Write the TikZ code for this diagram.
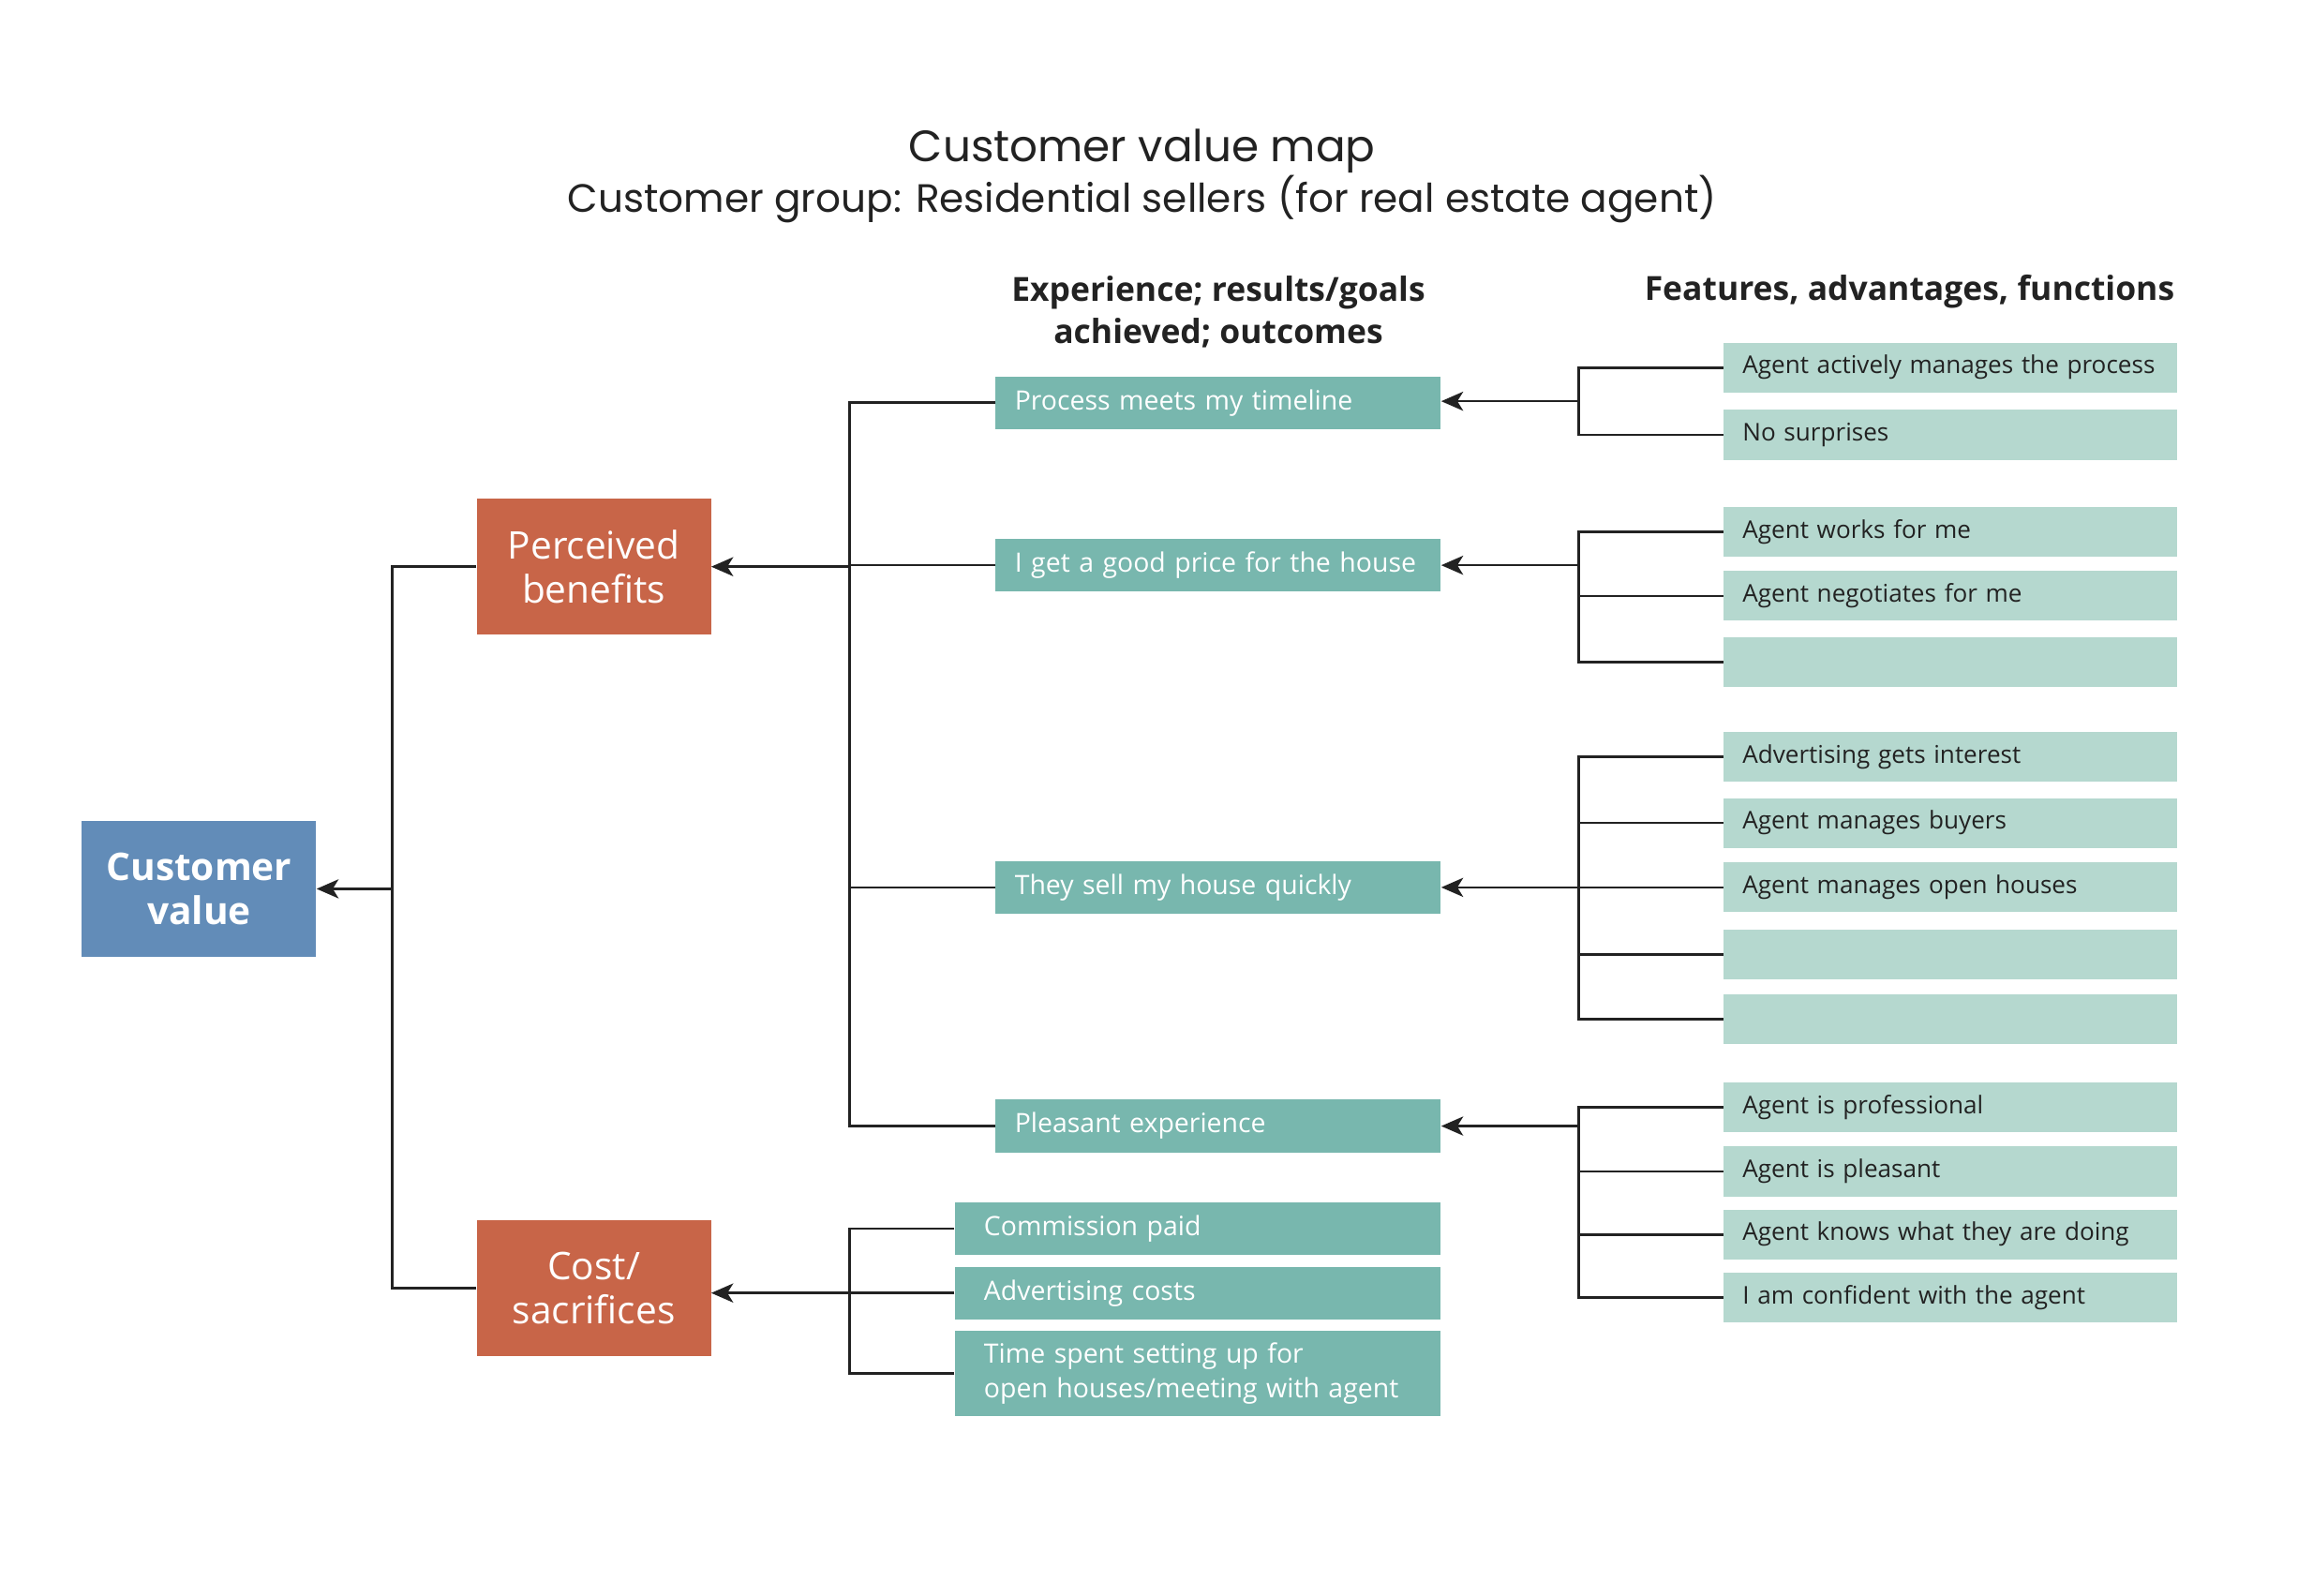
\documentclass[tikz,border=0pt]{standalone}
\usepackage{fontspec}
\setmainfont{Open Sans}
\newfontfamily\titlefont{Poppins}
\usetikzlibrary{arrows.meta}

\definecolor{cvblue}{HTML}{628CB8}
\definecolor{cvorange}{HTML}{C86548}
\definecolor{cvteal}{HTML}{78B7AE}
\definecolor{cvlight}{HTML}{B5D8CF}
\definecolor{linegray}{HTML}{222222}

\tikzset{
  link/.style={draw=linegray, line width=1.7pt},
  tip/.style={link, -{Stealth[length=15pt,width=13pt,inset=4pt]}},
  valuebox/.style={fill=cvblue, text=white, minimum width=160pt, minimum height=93pt, align=center, font=\fontsize{26}{30}\selectfont\bfseries},
  sidebox/.style={fill=cvorange, text=white, minimum width=160pt, minimum height=93pt, align=center, font=\fontsize{26}{30}\selectfont},
  outbox/.style={fill=cvteal, text=white, minimum height=36pt, inner xsep=13pt, text width=278pt, align=left, font=\fontsize{18.2}{24}\selectfont},
  costbox/.style={outbox, inner xsep=20pt, text width=292pt},
  featbox/.style={fill=cvlight, text=linegray, minimum height=34pt, inner xsep=13pt, text width=284pt, align=left, font=\fontsize{16.7}{21}\selectfont},
  heading/.style={text=linegray, align=center, font=\fontsize{22.7}{29}\selectfont\bfseries},
}

\begin{document}
\begin{tikzpicture}[x=1pt, y=-1pt]
  \useasboundingbox (0,0) rectangle (1569.3,1089.3);

  % titles
  \node[text=linegray, font=\titlefont\fontsize{30}{34}\selectfont] (title) at (780,103) {Customer value map};
  \node[text=linegray, font=\titlefont\fontsize{27}{30}\selectfont] (subtitle) at (780,136) {Customer group: Residential sellers (for real estate agent)};
  \node[heading] (headout) at (832,213) {Experience; results/goals\\achieved; outcomes};
  \node[heading] (headfeat) at (1304,199) {Features, advantages, functions};

  % main boxes
  \node[valuebox] (value) at (136,607) {Customer\\value};
  \node[sidebox] (benefits) at (405.5,387) {Perceived\\benefits};
  \node[sidebox] (cost) at (405.5,879.5) {Cost/\\sacrifices};

  % outcomes
  \node[outbox] (timeline) at (832,275) {Process meets my timeline};
  \node[outbox] (price) at (832,386) {I get a good price for the house};
  \node[outbox] (quick) at (832,606) {They sell my house quickly};
  \node[outbox] (pleasant) at (832,769) {Pleasant experience};
  \node[costbox] (commission) at (818,839) {Commission paid};
  \node[costbox] (adcost) at (818,883) {Advertising costs};
  \node[costbox, minimum height=58pt] (timecost) at (818,938) {Time spent setting up for\\open houses/meeting with agent};

  % features
  \node[featbox] (a1) at (1332,251) {Agent actively manages the process};
  \node[featbox] (a2) at (1332,297) {No surprises};
  \node[featbox] (b1) at (1332,363) {Agent works for me};
  \node[featbox] (b2) at (1332,407) {Agent negotiates for me};
  \node[featbox] (b3) at (1332,452) {};
  \node[featbox] (c1) at (1332,517) {Advertising gets interest};
  \node[featbox] (c2) at (1332,562) {Agent manages buyers};
  \node[featbox] (c3) at (1332,606) {Agent manages open houses};
  \node[featbox] (c4) at (1332,652) {};
  \node[featbox] (c5) at (1332,696) {};
  \node[featbox] (d1) at (1332,756) {Agent is professional};
  \node[featbox] (d2) at (1332,800) {Agent is pleasant};
  \node[featbox] (d3) at (1332,843) {Agent knows what they are doing};
  \node[featbox] (d4) at (1332,886) {I am confident with the agent};

  % junctions
  \coordinate (jvalue) at (268,607);
  \coordinate (jben) at (580,387);
  \coordinate (jcost) at (580,883);
  \coordinate (ja) at (1078,274);
  \coordinate (jb) at (1078,386);
  \coordinate (jc) at (1078,606);
  \coordinate (jd) at (1078,769);

  % connectors
  \draw[link] (benefits.west) -| (jvalue);
  \draw[link] (cost.west) -| (jvalue);
  \draw[tip] (jvalue) -- (value.east);

  \draw[link] (timeline.west) -| (jben);
  \draw[link] (price.west) -| (jben);
  \draw[link] (quick.west) -| (jben);
  \draw[link] (pleasant.west) -| (jben);
  \draw[tip] (jben) -- (benefits.east);

  \draw[link] (commission.west) -| (jcost);
  \draw[link] (adcost.west) -| (jcost);
  \draw[link] (timecost.west) -| (jcost);
  \draw[tip] (jcost) -- (jcost -| cost.east);

  \draw[link] (a1.west) -| (ja);
  \draw[link] (a2.west) -| (ja);
  \draw[tip] (ja) -- (ja -| timeline.east);

  \draw[link] (b1.west) -| (jb);
  \draw[link] (b2.west) -| (jb);
  \draw[link] (b3.west) -| (jb);
  \draw[tip] (jb) -- (price.east);

  \draw[link] (c1.west) -| (jc);
  \draw[link] (c2.west) -| (jc);
  \draw[link] (c3.west) -| (jc);
  \draw[link] (c4.west) -| (jc);
  \draw[link] (c5.west) -| (jc);
  \draw[tip] (jc) -- (quick.east);

  \draw[link] (d1.west) -| (jd);
  \draw[link] (d2.west) -| (jd);
  \draw[link] (d3.west) -| (jd);
  \draw[link] (d4.west) -| (jd);
  \draw[tip] (jd) -- (pleasant.east);
\end{tikzpicture}
\end{document}
